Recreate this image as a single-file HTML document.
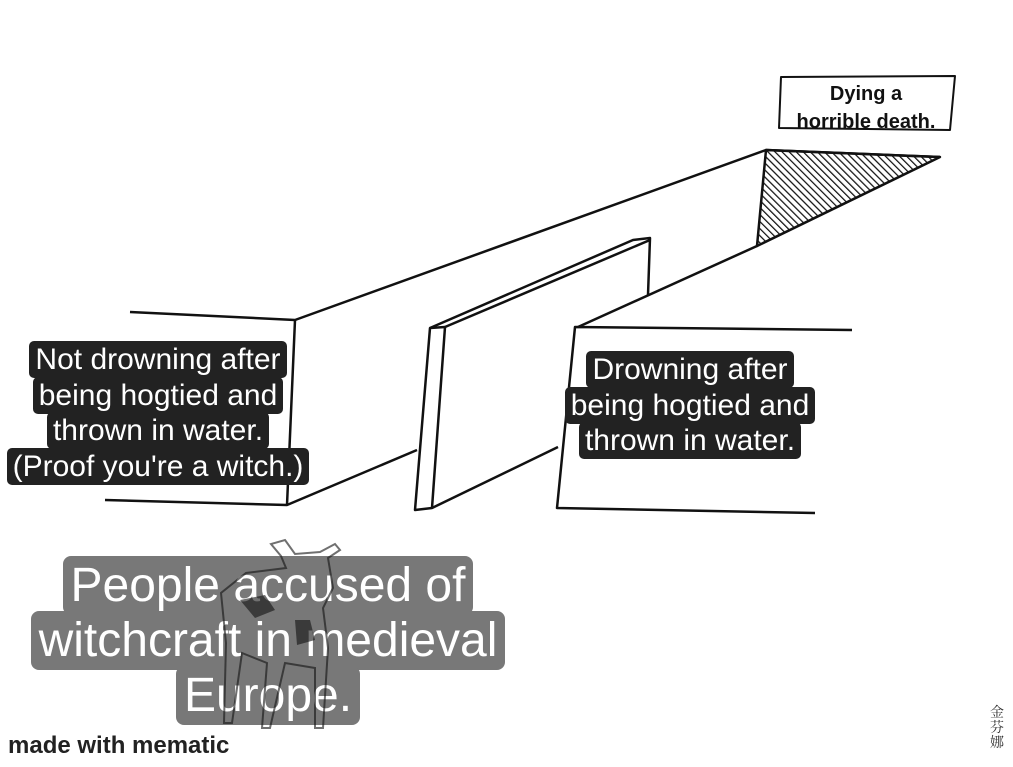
<html><body style="margin:0;width:1013px;height:767px;background:#fff;overflow:hidden;position:relative;font-family:'Liberation Sans',sans-serif">
<svg width="1013" height="767" style="position:absolute;left:0;top:0" fill="none" stroke="#111" stroke-width="2.5" stroke-linejoin="round">
<defs><pattern id="h" width="5" height="5" patternUnits="userSpaceOnUse" patternTransform="rotate(-45)"><rect width="5" height="5" fill="#fff" stroke="none"/><line x1="0" y1="0" x2="0" y2="5" stroke="#111" stroke-width="2.5"/></pattern></defs>
<polygon points="766,150 940,157 757,246" fill="url(#h)"/>
<polyline points="130,312 295,320 766,150 940,157"/>
<polyline points="295,320 287,505 105,500"/>
<line x1="287" y1="505" x2="417" y2="450"/>
<polygon points="430,328 445,327 432,508 415,510"/>
<polyline points="430,328 633,240 650,238 648,295"/>
<line x1="445" y1="327" x2="650" y2="240"/>
<line x1="432" y1="508" x2="558" y2="447"/>
<polyline points="852,330 575,327 557,508 815,513"/>
<line x1="578" y1="327" x2="757" y2="246"/>
<polygon points="781,77 955,76 950,130 779,128" stroke-width="2"/>
</svg>
<div style="position:absolute;left:780px;top:80px;width:172px;text-align:center;font-weight:bold;font-size:20px;line-height:28px;color:#111;white-space:nowrap">Dying a<br>horrible death.</div>
<style>.b span{background:#222;color:#fff;padding:2px 6px;border-radius:5px}
.b{position:absolute;text-align:center;font-size:30px;line-height:35.5px;white-space:nowrap}
.g span{background:#6e6e6e;color:#fff;padding:3px 8px;border-radius:8px}
.g{position:absolute;text-align:center;font-size:48px;line-height:55px;white-space:nowrap}</style>
<div class="b" style="left:0;top:342px;width:316px"><span>Not drowning after</span><br><span>being hogtied and</span><br><span>thrown in water.</span><br><span>(Proof you're a witch.)</span></div>
<div class="b" style="left:560px;top:352px;width:260px"><span>Drowning after</span><br><span>being hogtied and</span><br><span>thrown in water.</span></div>
<div class="g" style="left:20px;top:558px;width:496px;opacity:.93"><span>People accused of</span><br><span>witchcraft in medieval</span><br><span>Europe.</span></div>
<svg width="1013" height="767" style="position:absolute;left:0;top:0" fill="none" stroke="#111" stroke-width="2">
<path d="M285,540 l10,14 l25,-2 l15,-8 l5,6 l-12,8 l5,30 l-10,20 l5,40 l-5,80 l-8,0 l0,-60 l-30,-5 l-15,65 l-8,0 l5,-65 l-25,-10 l-10,70 l-8,0 l2,-80 l-5,-50 l25,-20 l40,-5 l-5,-12 l-10,-12 z" opacity=".6"/>
<path d="M240,600 l25,-5 l10,15 l-20,8 z M295,620 l15,0 l5,20 l-18,5 z" fill="#111" stroke="none" opacity=".6"/>
</svg>
<div style="position:absolute;left:8px;top:732px;font-weight:bold;font-size:24px;color:#222">made with mematic</div>
<div style="position:absolute;left:990px;top:705px;font-size:14px;line-height:15px;width:16px;color:#333;font-family:'Noto Serif CJK SC',serif">金芬娜</div>
</body></html>
